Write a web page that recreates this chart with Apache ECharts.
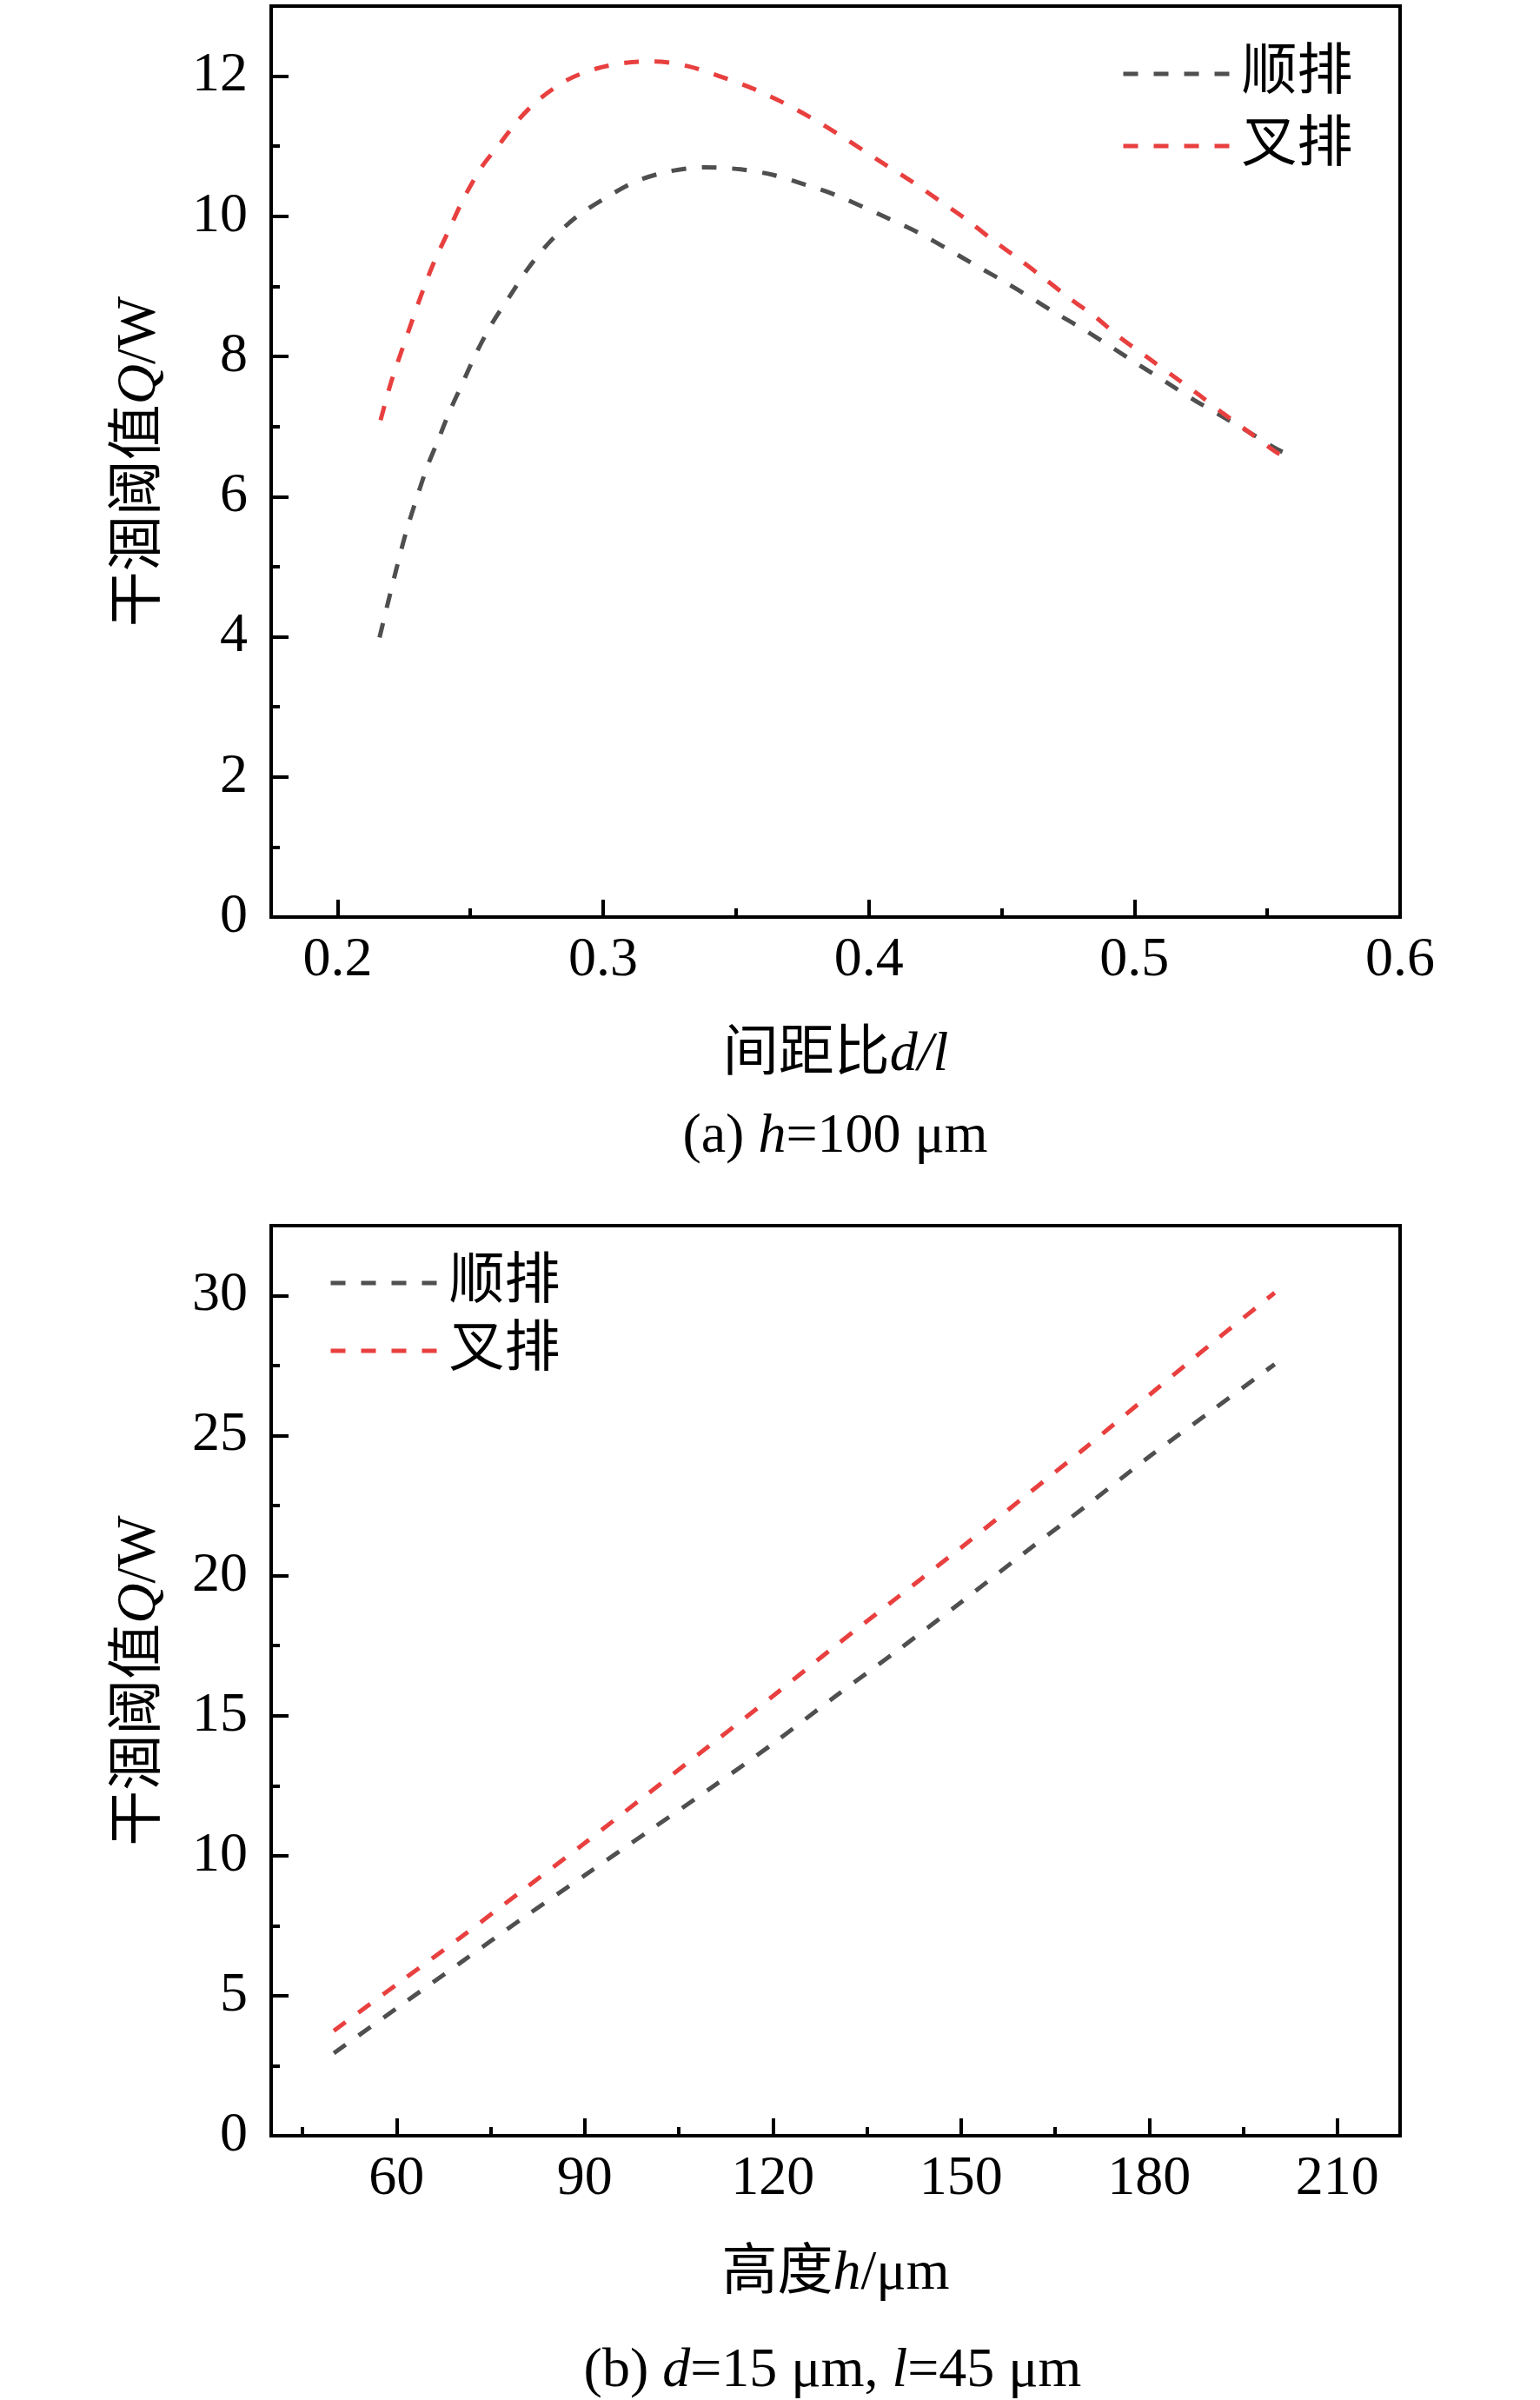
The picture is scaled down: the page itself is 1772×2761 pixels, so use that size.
<!DOCTYPE html>
<html>
<head>
<meta charset="utf-8">
<script src="https://cdn.jsdelivr.net/npm/echarts@6/dist/echarts.min.js"></script>
<style>
html,body{margin:0;padding:0;background:#fff;}
#chart{width:1772px;height:2761px;}
</style>
</head>
<body>
<div id="chart"></div>
<script>
// ---------- data (a): h = 100 μm ----------
const aGrayX = [0.2158,0.2190,0.2223,0.2257,0.2298,0.2338,0.2379,0.2420,0.2467,0.2521,0.2583,0.2650,0.2718,0.2800,0.2895,0.3003,0.3125,0.3247,0.3383,0.3518,0.3640,0.3762,0.3871,0.4050,0.4190,0.4298,0.4402,0.4505,0.4609,0.4712,0.4816,0.4919,0.5017,0.5121,0.5224,0.5328,0.5431,0.5535,0.5562];
const aGrayY = [3.99,4.49,4.99,5.48,5.98,6.43,6.81,7.20,7.59,8.04,8.48,8.87,9.26,9.64,9.98,10.25,10.50,10.64,10.70,10.67,10.59,10.45,10.31,10.01,9.76,9.53,9.30,9.08,8.84,8.60,8.37,8.12,7.88,7.63,7.38,7.15,6.92,6.68,6.63];
const aRedX = [0.2162,0.2203,0.2278,0.2325,0.2366,0.2420,0.2474,0.2542,0.2610,0.2677,0.2759,0.2867,0.2976,0.3084,0.3193,0.3322,0.3437,0.3559,0.3668,0.3790,0.3911,0.4040,0.4168,0.4271,0.4369,0.4467,0.4565,0.4658,0.4756,0.4854,0.4946,0.5044,0.5142,0.5240,0.5333,0.5431,0.5535,0.5562];
const aRedY = [7.09,7.65,8.48,8.98,9.37,9.81,10.25,10.70,11.03,11.36,11.67,11.95,12.11,12.19,12.21,12.14,12.00,11.83,11.64,11.39,11.11,10.79,10.48,10.21,9.95,9.66,9.39,9.12,8.83,8.56,8.27,8.00,7.73,7.46,7.19,6.92,6.63,6.59];
const aXTicks = [0.2,0.3,0.4,0.5,0.6];
const aXMinor = [0.25,0.35,0.45,0.55];
const aYTicks = [0,2,4,6,8,10,12];
const aYMinor = [1,3,5,7,9,11];

// ---------- data (b): d = 15 μm, l = 45 μm ----------
const bH    = [50,60,70,80,90,100,110,120,130,140,150,160,170,180,190,200];
const bGray = [2.95,4.55,6.15,7.75,9.3,10.85,12.4,14.0,15.7,17.35,19.05,20.8,22.5,24.25,25.9,27.55];
const bRed  = [3.75,5.4,7.05,8.75,10.45,12.2,13.95,15.7,17.5,19.25,21.0,22.8,24.6,26.45,28.3,30.1];
const bXTicks = [60,90,120,150,180,210];
const bXMinor = [45,75,105,135,165,195];
const bYTicks = [0,5,10,15,20,25,30];
const bYMinor = [2.5,7.5,12.5,17.5,22.5,27.5];

const seriesNames = ['顺排','叉排'];
const colGray = '#4f4f4f';
const colRed = '#e8403f';

const FF = '"Liberation Serif", "Noto Sans CJK SC", serif';
const FS = 64;
const LW = 5;
const DASH = [17, 18];

const zip = (xs, ys) => xs.map((x, i) => [x, ys[i]]);

function majorX(grid, min, max, ticks, fmt, name, gap) {
  return {
    type: 'value', gridIndex: grid, min: min, max: max, position: 'bottom',
    axisLine: {show: true, onZero: false, lineStyle: {color: '#000', width: 4}},
    axisTick: {show: true, inside: true, length: 20, customValues: ticks, lineStyle: {color: '#000', width: 4}},
    axisLabel: {show: true, customValues: ticks, formatter: fmt, margin: 18, color: '#000', fontFamily: FF, fontSize: FS},
    splitLine: {show: false},
    name: name, nameLocation: 'middle', nameGap: gap,
    nameTextStyle: {color: '#000', fontFamily: FF, fontSize: FS, lineHeight: FS,
      rich: {i: {fontStyle: 'italic', fontFamily: FF, fontSize: FS, color: '#000'}}}
  };
}
function minorAxis(pos, grid, min, max, ticks) {
  return {
    type: 'value', gridIndex: grid, min: min, max: max, position: pos,
    axisLine: {show: false, onZero: false},
    axisTick: {show: true, inside: true, length: 10, customValues: ticks, lineStyle: {color: '#000', width: 4}},
    axisLabel: {show: false},
    splitLine: {show: false}
  };
}
function majorY(grid, min, max, ticks, name) {
  return {
    type: 'value', gridIndex: grid, min: min, max: max, position: 'left',
    axisLine: {show: true, onZero: false, lineStyle: {color: '#000', width: 4}},
    axisTick: {show: true, inside: true, length: 20, customValues: ticks, lineStyle: {color: '#000', width: 4}},
    axisLabel: {show: true, customValues: ticks, margin: 27, color: '#000', fontFamily: FF, fontSize: FS},
    splitLine: {show: false},
    name: name, nameLocation: 'middle', nameRotate: 90, nameGap: 119,
    nameTextStyle: {color: '#000', fontFamily: FF, fontSize: FS, lineHeight: FS,
      rich: {i: {fontStyle: 'italic', fontFamily: FF, fontSize: FS, color: '#000'}}}
  };
}
function lineSeries(name, color, data, xi, yi) {
  return {
    type: 'line', name: name, data: data, xAxisIndex: xi, yAxisIndex: yi,
    symbol: 'none', showSymbol: false, smooth: 0.3,
    itemStyle: {color: color},
    lineStyle: {color: color, width: LW, type: DASH},
    emphasis: {disabled: true}
  };
}
function legendAt(left, top, gap) {
  return {
    orient: 'vertical', left: left, top: top, itemGap: gap,
    itemWidth: 122, itemHeight: 4,
    data: seriesNames,
    itemStyle: {opacity: 0, borderWidth: 0},
    lineStyle: {width: LW, type: DASH, opacity: 1},
    textStyle: {color: '#000', fontFamily: FF, fontSize: FS, lineHeight: FS, padding: [0, 0, 0, 9]},
    selectedMode: false
  };
}

const chart = echarts.init(document.getElementById('chart'), null, {renderer: 'canvas'});
chart.setOption({
  animation: false,
  backgroundColor: '#fff',
  grid: [
    {left: 312, top: 7, width: 1299, height: 1048, show: true, borderColor: '#000', borderWidth: 4, containLabel: false},
    {left: 312, top: 1410, width: 1299, height: 1047, show: true, borderColor: '#000', borderWidth: 4, containLabel: false}
  ],
  xAxis: [
    majorX(0, 0.175, 0.6, aXTicks, v => v.toFixed(1), '间距比{i|d/l}', 127),
    minorAxis('bottom', 0, 0.175, 0.6, aXMinor),
    majorX(1, 40, 220, bXTicks, v => String(v), '高度{i|h}/μm', 127),
    minorAxis('bottom', 1, 40, 220, bXMinor)
  ],
  yAxis: [
    majorY(0, 0, 13, aYTicks, '干涸阈值{i|Q}/W'),
    minorAxis('left', 0, 0, 13, aYMinor),
    majorY(1, 0, 32.5, bYTicks, '干涸阈值{i|Q}/W'),
    minorAxis('left', 1, 0, 32.5, bYMinor)
  ],
  legend: [
    legendAt(1285, 48, 19),
    legendAt(373, 1439, 14)
  ],
  series: [
    lineSeries(seriesNames[0], colGray, zip(aGrayX, aGrayY), 0, 0),
    lineSeries(seriesNames[1], colRed, zip(aRedX, aRedY), 0, 0),
    lineSeries(seriesNames[0], colGray, zip(bH, bGray), 2, 2),
    lineSeries(seriesNames[1], colRed, zip(bH, bRed), 2, 2)
  ],
  graphic: [
    {type: 'text', x: 961, y: 1308, style: {text: '(a) {i|h}=100 μm', align: 'center', verticalAlign: 'middle',
      fill: '#000', font: FS + 'px ' + FF,
      rich: {i: {fontStyle: 'italic', fontFamily: FF, fontSize: FS, fill: '#000'}}}},
    {type: 'text', x: 958, y: 2728, style: {text: '(b) {i|d}=15 μm, {i|l}=45 μm', align: 'center', verticalAlign: 'middle',
      fill: '#000', font: FS + 'px ' + FF,
      rich: {i: {fontStyle: 'italic', fontFamily: FF, fontSize: FS, fill: '#000'}}}}
  ]
});
</script>
</body>
</html>
